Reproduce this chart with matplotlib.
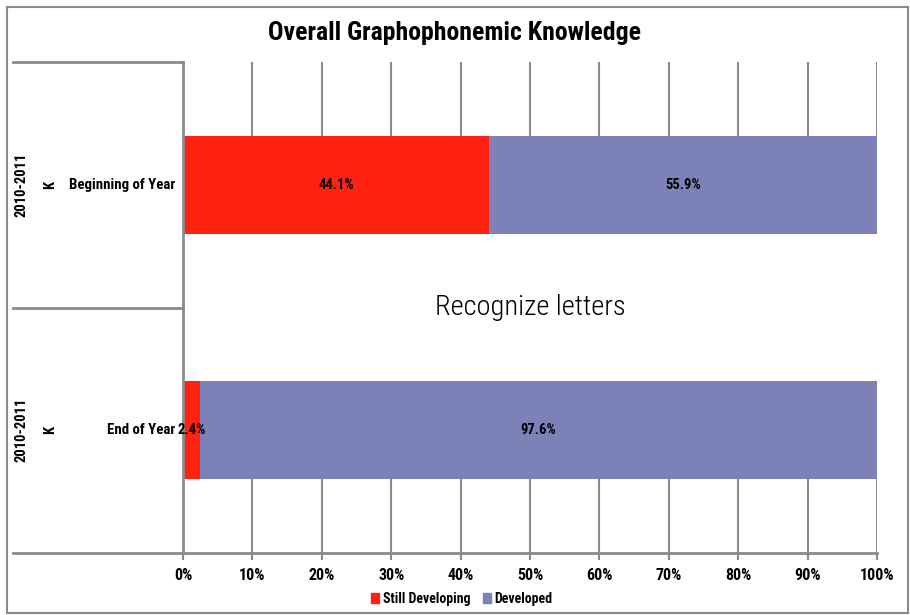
import numpy as np
import matplotlib
matplotlib.use("Agg")
import matplotlib.pyplot as plt
import matplotlib.transforms as mtransforms
from matplotlib.patches import Rectangle, Patch

# data
years = ["2010-2011", "2010-2011"]
grades = ["K", "K"]
periods = ["Beginning of Year", "End of Year"]
still_developing = [44.1, 2.4]
developed = [55.9, 97.6]
series_names = ["Still Developing", "Developed"]
xtick_vals = [0, 10, 20, 30, 40, 50, 60, 70, 80, 90, 100]

RED = "#FF2210"
BLUE = "#7C81B8"
GRAY = "#8A8A8A"

FONT = ['Roboto Condensed', 'DejaVu Sans']
plt.rcParams['font.family'] = FONT

W, H = 910, 615
fig = plt.figure(figsize=(W / 100, H / 100), dpi=100)
ax = fig.add_axes([183 / W, 62 / H, (877 - 183) / W, (553 - 62) / H])

y = np.arange(len(periods))
bh = 0.4
ax.barh(y, still_developing, height=bh, color=RED, zorder=2, label=series_names[0])
ax.barh(y, developed, left=still_developing, height=bh, color=BLUE, zorder=2, label=series_names[1])

# data labels in the middle of each segment
for i in range(len(periods)):
    ax.text(still_developing[i] / 2, y[i], "{:.1f}%".format(still_developing[i]),
            ha="center", va="center", fontsize=10.5, fontweight="bold", zorder=3)
    ax.text(still_developing[i] + developed[i] / 2, y[i], "{:.1f}%".format(developed[i]),
            ha="center", va="center", fontsize=10.5, fontweight="bold", zorder=3)

ax.set_xlim(0, 100)
ax.set_ylim(len(periods) - 0.5, -0.5)
ax.set_xticks(xtick_vals)
ax.set_xticklabels(["{}%".format(v) for v in xtick_vals], fontsize=11.5, fontweight="bold")
ax.set_yticks([])
ax.xaxis.grid(True, color=GRAY, lw=1.5)
ax.set_axisbelow(True)
ax.tick_params(axis="x", length=5, width=1.5, color=GRAY, pad=6)
for s in ["top", "right"]:
    ax.spines[s].set_visible(False)
for s in ["left", "bottom"]:
    ax.spines[s].set_color(GRAY)
    ax.spines[s].set_linewidth(2)

# white box behind the centre text hides the gridlines between the bars
ax.axhspan(bh / 2, 1 - bh / 2, color="white", zorder=1)
ax.text(50, 0.5, "Recognize letters", ha="center", va="center", fontsize=20.5,
        fontweight=300, zorder=3)

# category label area on the left
x0 = (13 - 183) / (877 - 183)
for yy in [0, 0.5, 1]:
    ax.plot([x0, 0], [yy, yy], transform=ax.transAxes, color=GRAY, lw=2, clip_on=False)

tr = mtransforms.blended_transform_factory(fig.transFigure, ax.transData)
for i in range(len(periods)):
    ax.text(22 / W, y[i], years[i], transform=tr, rotation=90, ha="center", va="center",
            fontsize=10.5, fontweight="bold")
    ax.text(50 / W, y[i], grades[i], transform=tr, rotation=90, ha="center", va="center",
            fontsize=10.5, fontweight="bold")
    ax.text(175 / W, y[i], periods[i], transform=tr, ha="right", va="center",
            fontsize=10.7, fontweight="bold")

fig.suptitle("Overall Graphophonemic Knowledge", y=1 - 33 / H, va="center",
             fontsize=18.5, fontweight=900)

handles = [Patch(color=RED), Patch(color=BLUE)]
fig.legend(handles, series_names, loc="center", bbox_to_anchor=(462 / W, 1 - 599 / H), ncol=2,
           frameon=False, handlelength=0.55, handleheight=0.75, handletextpad=0.3, columnspacing=0.9,
           prop={"size": 10, "weight": "bold"})

fig.patches.append(Rectangle((7 / W, 2 / H), 901 / W, 606 / H, transform=fig.transFigure,
                             fill=False, edgecolor=GRAY, lw=1.5))

fig.savefig("out.png", dpi=100)
